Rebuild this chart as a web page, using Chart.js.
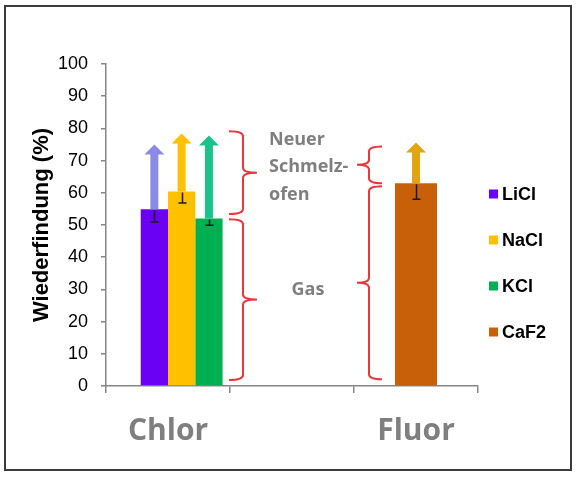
<!DOCTYPE html>
<html><head><meta charset="utf-8">
<script src="https://cdn.jsdelivr.net/npm/chart.js@4"></script>
<style>
html,body{margin:0;padding:0;background:#fff;}
#frame{position:absolute;left:4px;top:5px;width:564px;height:462px;border:2px solid #3c3c3c;}
#wrap{position:absolute;left:0;top:0;width:580px;height:482px;}
</style></head><body>
<div id="frame"></div>
<div id="wrap"><canvas id="c" width="580" height="482"></canvas></div>
<script>
// ---- data ----
const categories = ['Chlor', '', 'Fluor'];
const seriesNames = ['LiCl', 'NaCl', 'KCl', 'CaF2'];
const liclValues = [54.9, null, null];
const naclValues = [60.4, null, null];
const kclValues  = [52.0, null, null];
const caf2Values = [null, null, 63.0];
const emptySlot  = [0, null, null];          // empty first slot of the Chlor cluster (as in the original)
const errorMinus = [4.0, 3.6, 2.1, 5.0];     // per series, downward error
const arrowTips  = [75.0, 78.4, 77.8, 75.6]; // per series, arrow tip value
const yTickMin = 0, yTickMax = 100, yTickStep = 10;
const chlorBraces = [[53.4, 79.1], [1.9, 51.8]];
const fluorBraces = [[63.0, 74.4], [2.1, 62.0]];
const noteLines = ['Neuer', 'Schmelz-', 'ofen'];
const noteLineValues = [76.5, 68.1, 59.4];
const gasLabel = 'Gas';
const gasValue = 29.9;

// ---- styles ----
const barColors = ['#6a00f4', '#ffc000', '#00b050', '#c8600a'];
const arrowColors = ['#8b8be6', '#ffc000', '#1cc28c', '#e2a50f'];
const braceColor = '#e8383d';
const noteColor = '#7f7f7f';

const seriesValues = [liclValues, naclValues, kclValues, caf2Values];

const overlay = {
  id: 'overlay',
  afterDatasetsDraw(chart) {
    const ctx = chart.ctx;
    const ys = chart.scales.y, xs = chart.scales.x;
    const real = chart.data.datasets.map((ds, k) => ({ ds, k })).filter(o => o.ds.seriesIndex !== undefined);
    ctx.save();
    // arrows
    real.forEach(({ ds, k }) => {
      const i = ds.seriesIndex;
      const meta = chart.getDatasetMeta(k);
      ds.data.forEach((v, j) => {
        if (v === null) return;
        const el = meta.data[j];
        const x = el.x, yb = el.y, yt = ys.getPixelForValue(arrowTips[i]);
        const head = 10, hh = 10, sh = 4;
        ctx.fillStyle = arrowColors[i];
        ctx.beginPath();
        ctx.moveTo(x - sh, yb);
        ctx.lineTo(x - sh, yt + head);
        ctx.lineTo(x - hh, yt + head);
        ctx.lineTo(x, yt);
        ctx.lineTo(x + hh, yt + head);
        ctx.lineTo(x + sh, yt + head);
        ctx.lineTo(x + sh, yb);
        ctx.closePath();
        ctx.fill();
      });
    });
    // error bars
    real.forEach(({ ds, k }) => {
      const i = ds.seriesIndex;
      const meta = chart.getDatasetMeta(k);
      ds.data.forEach((v, j) => {
        if (v === null) return;
        const el = meta.data[j];
        const x = Math.round(el.x) + 0.5;
        const y1 = el.y + 1, y2 = ys.getPixelForValue(v - errorMinus[i]);
        ctx.strokeStyle = '#1a1a1a';
        ctx.lineWidth = 1.5;
        ctx.beginPath();
        ctx.moveTo(x, y1); ctx.lineTo(x, y2);
        ctx.moveTo(x - 4, y2); ctx.lineTo(x + 4, y2);
        ctx.stroke();
      });
    });
    // braces
    function brace(xMain, xEnd, xTip, vLow, vHigh) {
      const top = ys.getPixelForValue(vHigh), bot = ys.getPixelForValue(vLow);
      const mid = (top + bot) / 2, r = 5;
      ctx.beginPath();
      ctx.moveTo(xEnd, top);
      ctx.quadraticCurveTo(xMain, top, xMain, top + r);
      ctx.lineTo(xMain, mid - r);
      ctx.quadraticCurveTo(xMain, mid, xTip, mid);
      ctx.quadraticCurveTo(xMain, mid, xMain, mid + r);
      ctx.lineTo(xMain, bot - r);
      ctx.quadraticCurveTo(xMain, bot, xEnd, bot);
      ctx.stroke();
    }
    ctx.strokeStyle = braceColor;
    ctx.lineWidth = 2;
    const b1 = (xs.getPixelForValue(0) + xs.getPixelForValue(1)) / 2;
    const b2 = (xs.getPixelForValue(1) + xs.getPixelForValue(2)) / 2;
    chlorBraces.forEach(([lo, hi]) => brace(b1 + 13, b1 - 1, b1 + 27, lo, hi));
    fluorBraces.forEach(([lo, hi]) => brace(b2 + 15, b2 + 28, b2 + 3, lo, hi));
    // notes
    ctx.fillStyle = noteColor;
    ctx.font = 'bold 18px "Open Sans"';
    ctx.textBaseline = 'middle';
    ctx.textAlign = 'left';
    noteLines.forEach((t, k) => ctx.fillText(t, b1 + 39, ys.getPixelForValue(noteLineValues[k])));
    ctx.textAlign = 'center';
    ctx.fillText(gasLabel, b1 + 78, ys.getPixelForValue(gasValue));
    // legend
    const ca = chart.chartArea;
    ctx.font = 'bold 18px "Liberation Sans"';
    ctx.textAlign = 'left';
    real.forEach(({ ds }) => {
      const i = ds.seriesIndex;
      const yc = ca.top + 130 + 46 * i;
      ctx.fillStyle = barColors[i];
      ctx.fillRect(ca.right + 11, yc - 4.5, 9, 9);
      ctx.fillStyle = '#000';
      ctx.fillText(ds.label, ca.right + 24, yc + 1);
    });
    ctx.restore();
  }
};

const datasets = [{
  label: '',
  data: emptySlot,
  backgroundColor: 'rgba(0,0,0,0)',
  borderWidth: 0,
  skipNull: true,
  categoryPercentage: 0.88,
  barPercentage: 1.0
}].concat(seriesNames.map((n, i) => ({
  label: n,
  seriesIndex: i,
  data: seriesValues[i],
  backgroundColor: barColors[i],
  borderWidth: 0,
  skipNull: true,
  categoryPercentage: 0.88,
  barPercentage: i === 3 ? 0.385 : 1.0
})));

new Chart(document.getElementById('c'), {
  type: 'bar',
  data: { labels: categories, datasets },
  options: {
    responsive: false,
    animation: false,
    devicePixelRatio: 1,
    layout: { padding: { left: 4, right: 102, top: 64, bottom: 0 } },
    plugins: { legend: { display: false }, tooltip: { enabled: false } },
    scales: {
      x: {
        offset: true,
        grid: { offset: true, drawOnChartArea: false, drawTicks: true, tickLength: 7, color: '#868686', lineWidth: 1.5 },
        border: { color: '#868686', width: 1.5 },
        ticks: { color: '#7f7f7f', font: { family: 'Open Sans', size: 30, weight: 'bold' }, padding: 20, maxRotation: 0, autoSkip: false },
        afterFit(s) { s.height = 96; }
      },
      y: {
        min: yTickMin, max: yTickMax,
        ticks: { stepSize: yTickStep, color: '#000', font: { family: 'Liberation Sans', size: 18 }, padding: 13 },
        grid: { drawOnChartArea: false, drawTicks: true, tickLength: 5, color: '#868686', lineWidth: 1.5 },
        border: { color: '#868686', width: 1.5 },
        title: { display: true, text: 'Wiederfindung (%)', color: '#000', font: { family: 'Liberation Sans', size: 22, weight: 'bold' }, padding: { top: 25, bottom: 0 } },
        afterFit(s) { s.width = 102; }
      }
    }
  },
  plugins: [overlay]
});
</script>
</body></html>
